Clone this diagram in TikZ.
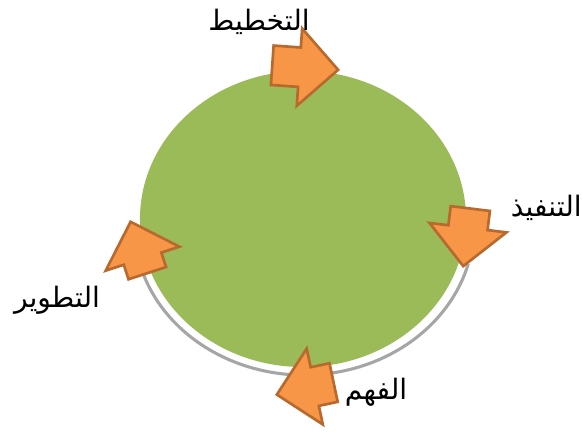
\documentclass[tikz,border=0pt]{standalone}
\usepackage{fontspec}
\newfontfamily\arabicfont[Script=Arabic]{DejaVu Sans}
\TeXXeTstate=1
\usepackage{xcolor}
\definecolor{cygreen}{RGB}{155,187,89}
\definecolor{cyorange}{RGB}{247,150,70}
\definecolor{cyborder}{RGB}{184,106,46}
\definecolor{cygray}{RGB}{166,166,166}
\usetikzlibrary{shapes.arrows}

\begin{document}
\begin{tikzpicture}[x=0.025cm, y=0.025cm,
  cyclearrow/.style={single arrow, draw=cyborder, fill=cyorange, line width=1.9pt,
    minimum height=1.5cm, single arrow head extend=0.475cm,
    inner xsep=0pt, inner ysep=0.46cm, anchor=tip},
  steplabel/.style={font=\arabicfont\fontsize{20}{24}\selectfont, inner sep=0pt}]
  \useasboundingbox (0,0) rectangle (582,434);

  % ring behind the disc
  \draw[cygray, line width=2.2pt] (304,209) ++(195:4.25cm and 3.75cm)
    arc[start angle=195, end angle=345, x radius=4.25cm, y radius=3.75cm];
  % disc
  \fill[cygreen] (303,215) ellipse [x radius=4.075cm, y radius=3.7cm];

  % --- arrows round the cycle ---
  \node[cyclearrow, rotate=-4, minimum height=1.65cm] (arrplan) at (340,364) {};
  \node[cyclearrow, rotate=-97, minimum height=1.45cm] (arrexec) at (463,166) {};
  \node[cyclearrow, rotate=192, minimum height=1.45cm] (arrund)  at (275,39)  {};
  \node[cyclearrow, rotate=108, minimum height=1.35cm] (arrdev)  at (130,214) {};

  % --- labels ---
  \node[steplabel] (lblplan) at (259,412) {\beginR التخطيط\endR};
  \node[steplabel, anchor=east] (lblexec) at (582,226) {\beginR التنفيذ\endR};
  \node[steplabel] (lblund)  at (376,42)  {\beginR الفهم\endR};
  \node[steplabel] (lbldev)  at (57,134)  {\beginR التطوير\endR};
\end{tikzpicture}
\end{document}
